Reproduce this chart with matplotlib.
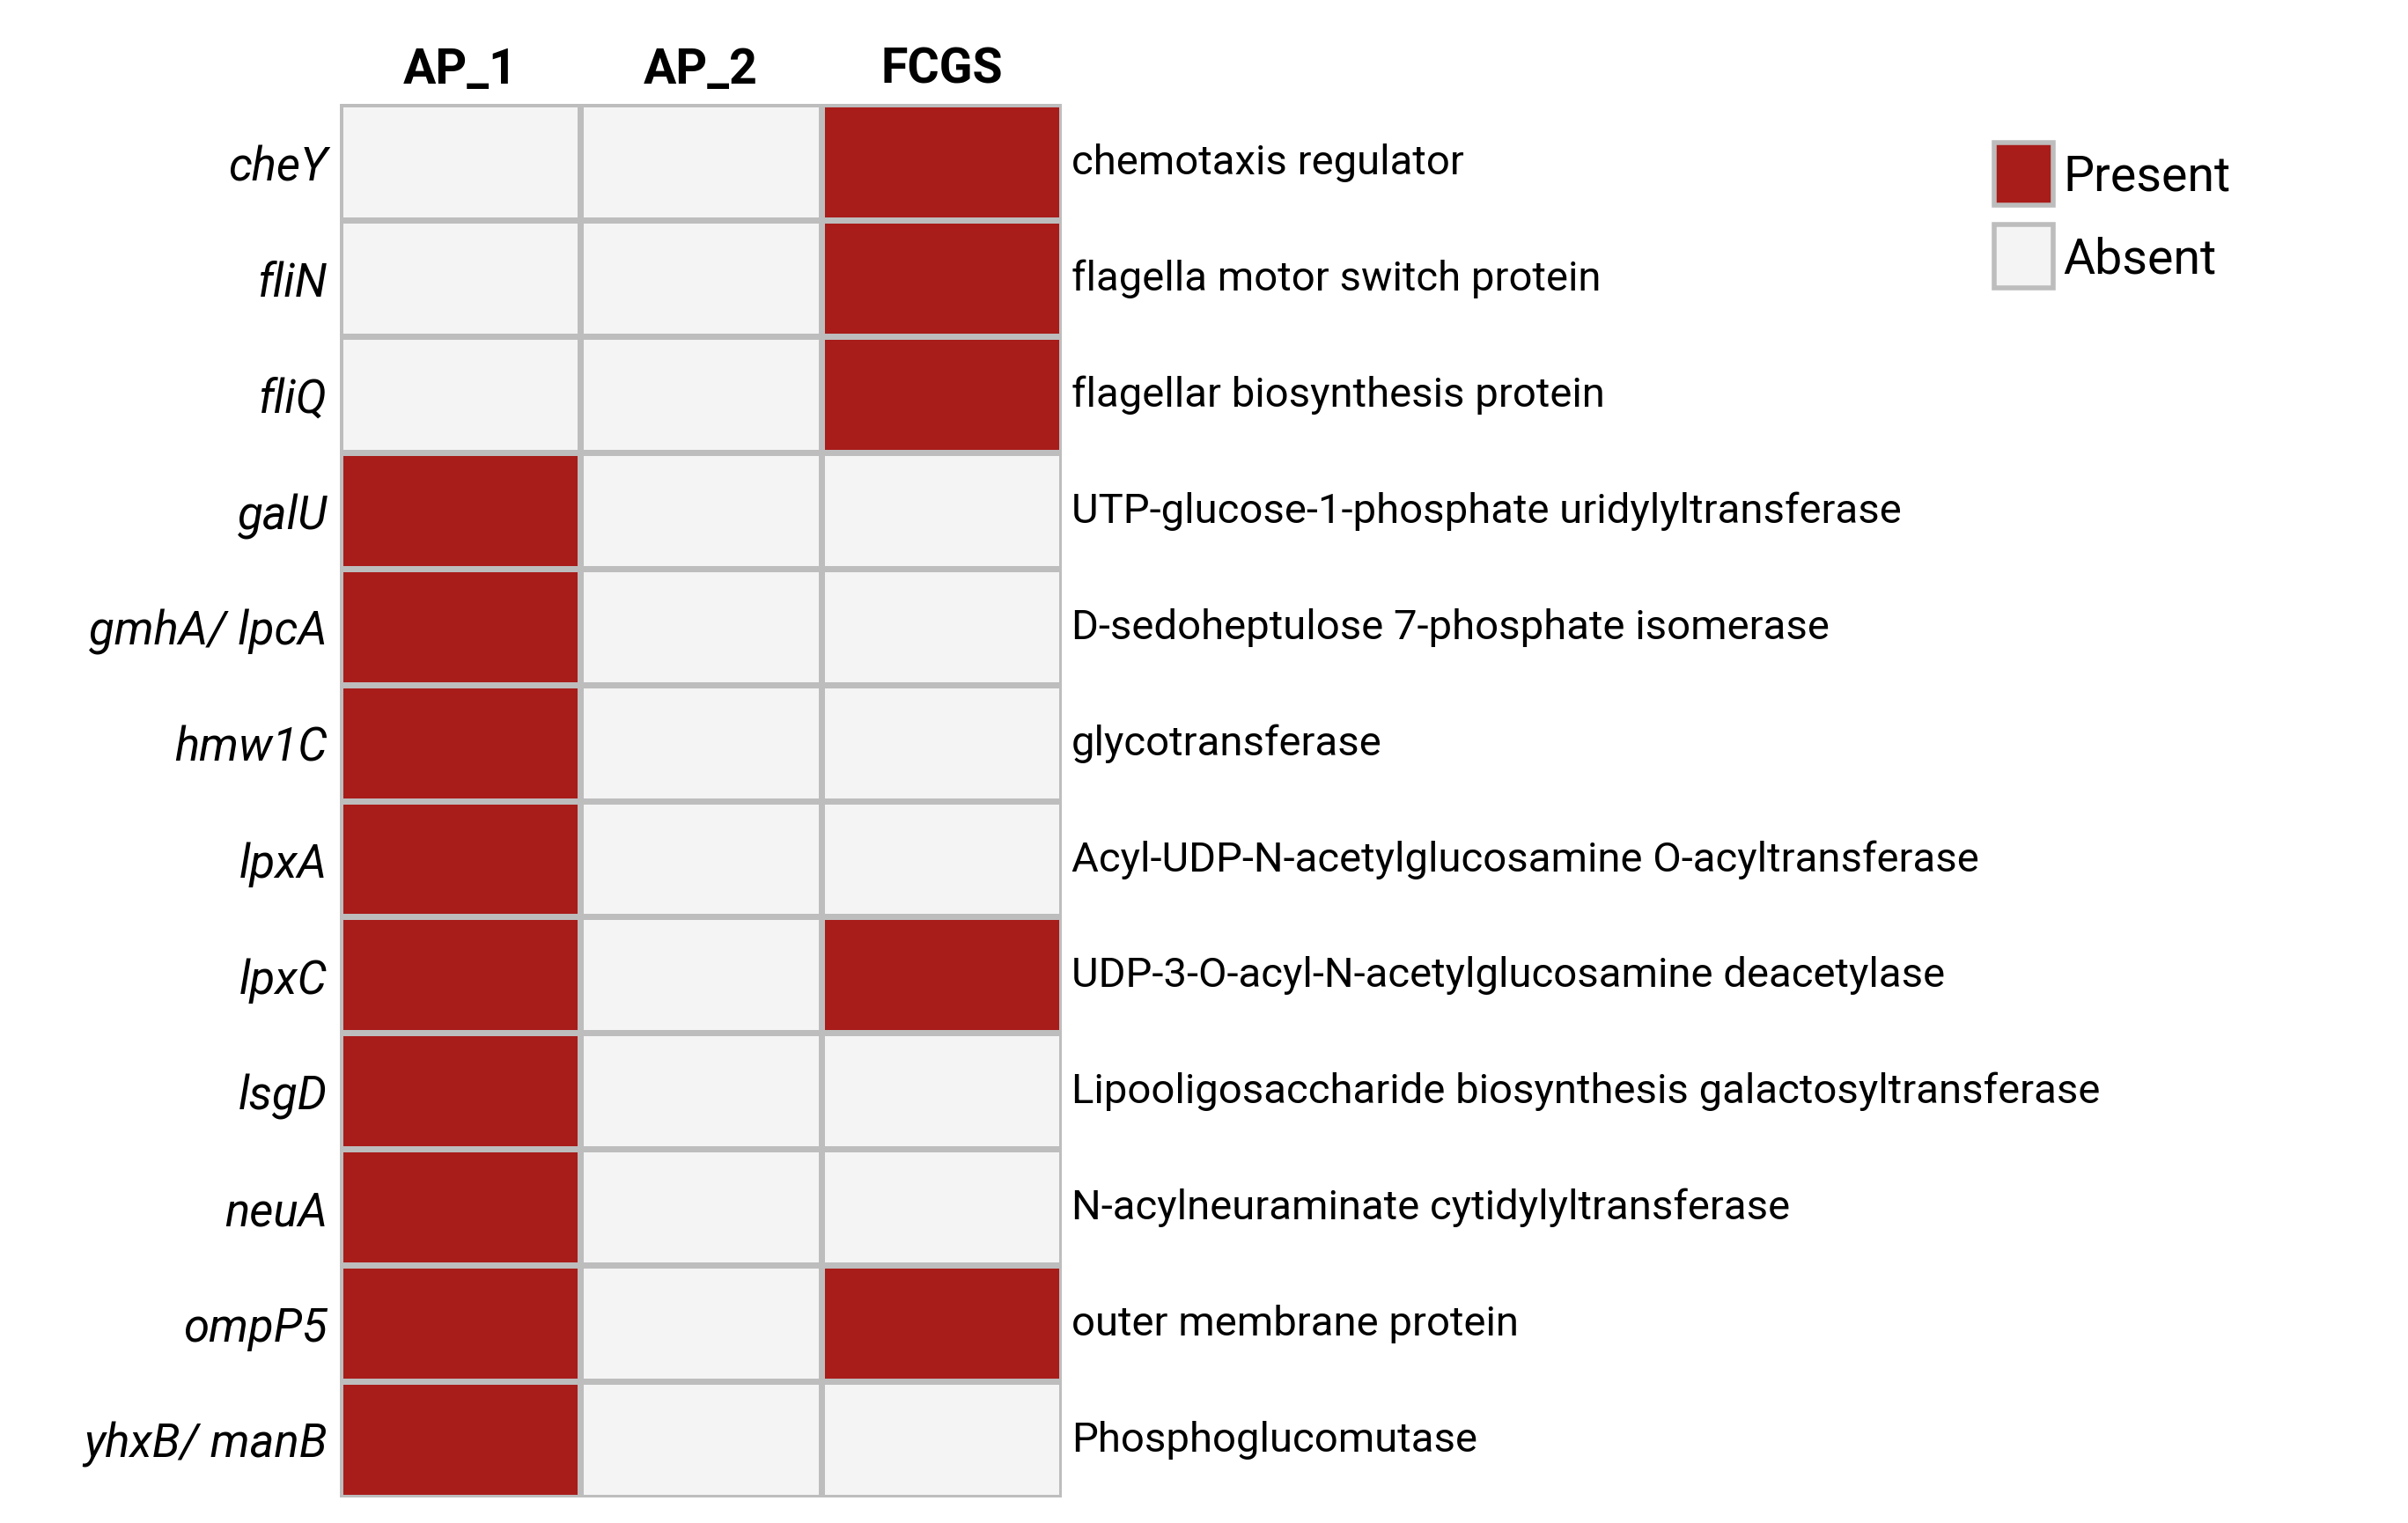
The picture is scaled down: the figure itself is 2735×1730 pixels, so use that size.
import matplotlib
matplotlib.use("Agg")
import matplotlib.pyplot as plt
from matplotlib.colors import ListedColormap
from matplotlib.patches import Patch
import numpy as np

plt.rcParams['font.family'] = ['Roboto', 'DejaVu Sans']

columns = ["AP_1", "AP_2", "FCGS"]
genes = ["cheY", "fliN", "fliQ", "galU", "gmhA/ lpcA", "hmw1C", "lpxA", "lpxC",
         "lsgD", "neuA", "ompP5", "yhxB/ manB"]
descriptions = ["chemotaxis regulator", "flagella motor switch protein",
                "flagellar biosynthesis protein", "UTP-glucose-1-phosphate uridylyltransferase",
                "D-sedoheptulose 7-phosphate isomerase", "glycotransferase",
                "Acyl-UDP-N-acetylglucosamine O-acyltransferase",
                "UDP-3-O-acyl-N-acetylglucosamine deacetylase",
                "Lipooligosaccharide biosynthesis galactosyltransferase",
                "N-acylneuraminate cytidylyltransferase", "outer membrane protein",
                "Phosphoglucomutase"]
ap1 = [0, 0, 0, 1, 1, 1, 1, 1, 1, 1, 1, 1]
ap2 = [0] * 12
fcgs = [1, 1, 1, 0, 0, 0, 0, 1, 0, 0, 1, 0]

RED = "#A81C1A"
ABS = "#F4F4F4"
EDGE = "#BDBDBD"

fig = plt.figure(figsize=(27.35, 17.31), dpi=100)
ax = fig.add_axes([0.141, 0.017, 0.300, 0.914])
data = np.array([ap1, ap2, fcgs]).T
ax.pcolormesh(data, cmap=ListedColormap([ABS, RED]), vmin=0, vmax=1,
              edgecolors=EDGE, linewidth=5)
ax.set_xlim(0, 3)
ax.set_ylim(len(genes), 0)
ax.set_xticks(np.arange(3) + 0.5)
ax.set_xticklabels(columns, fontsize=40, fontweight='bold')
ax.xaxis.tick_top()
ax.set_yticks(np.arange(len(genes)) + 0.5)
ax.set_yticklabels(genes, fontsize=38, fontstyle='italic')
ax.tick_params(length=0, pad=10)
for s in ax.spines.values():
    s.set_visible(False)
for i, d in enumerate(descriptions):
    ax.text(3.04, i + 0.5, d, fontsize=34, va='center', ha='left')

handles = [Patch(facecolor=RED, edgecolor=EDGE, linewidth=4, label="Present"),
           Patch(facecolor=ABS, edgecolor=EDGE, linewidth=4, label="Absent")]
fig.legend(handles=handles, loc='upper left', bbox_to_anchor=(0.81, 0.935),
           frameon=False, fontsize=40, handlelength=1.2, handleheight=1.6,
           handletextpad=0.2, labelspacing=0.4)

fig.savefig("out.png", dpi=100)
